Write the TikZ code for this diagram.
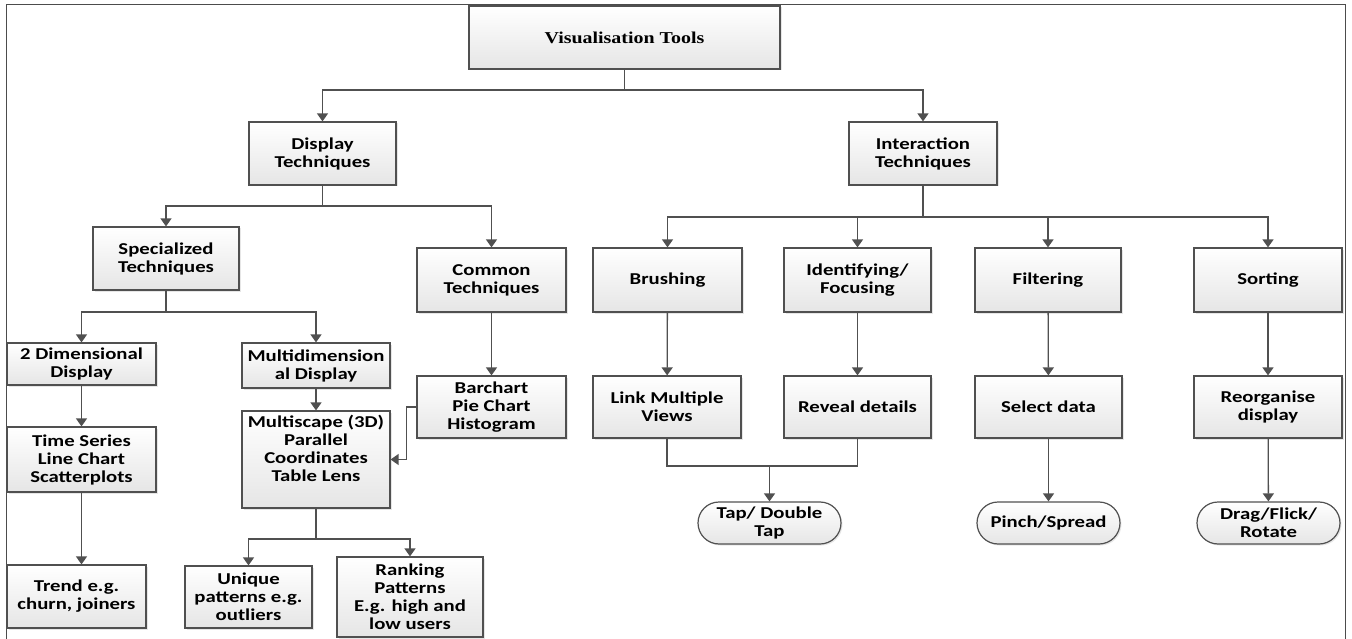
\documentclass[tikz,border=0pt]{standalone}
\usepackage{fontspec}
\setmainfont{Carlito}[FakeStretch=1.25]
\newfontfamily\titlefont{Liberation Serif}[FakeStretch=1.2]
\usetikzlibrary{arrows.meta,shapes.misc,shadows}
\definecolor{linegray}{HTML}{505050}
\tikzset{
  box/.style={draw=linegray, line width=1.2pt, top color=white, bottom color=gray!20,
    drop shadow={opacity=0.2,shadow xshift=1.5pt,shadow yshift=-1.5pt},
    align=center, inner sep=2pt, text=black,
    font=\fontsize{16.6}{18}\selectfont\bfseries},
  pill/.style={box, rounded rectangle},
  wire/.style={draw=linegray, line width=1.3pt},
  wirearrow/.style={wire, -{Triangle[width=11pt,length=8pt]}}
}
\begin{document}
\begin{tikzpicture}[x=1pt,y=-1pt]
\useasboundingbox (0,0) rectangle (1352,639);
\draw[line width=1pt, black!70] (6,639) -- (6,5) -- (1345,5) -- (1345,639);

% top levels
\node[box, minimum width=311pt, minimum height=63pt, font=\fontsize{16.6}{18}\selectfont\titlefont\bfseries] (vis) at (624.5,37.5) {Visualisation Tools};
\node[box, minimum width=147pt, minimum height=63pt] (disp) at (322.5,153.5) {Display\\Techniques};
\node[box, minimum width=148pt, minimum height=63pt] (inter) at (923,153.5) {Interaction\\Techniques};

\node[box, minimum width=146pt, minimum height=63pt] (spec) at (166,258.5) {Specialized\\Techniques};
\node[box, minimum width=149pt, minimum height=64pt] (common) at (491.5,280) {Common\\Techniques};
\node[box, minimum width=149pt, minimum height=64pt] (brush) at (667.5,280) {Brushing};
\node[box, minimum width=147pt, minimum height=64pt] (ident) at (857.5,280) {Identifying/\\Focusing};
\node[box, minimum width=146pt, minimum height=64pt] (filt) at (1048,280) {Filtering};
\node[box, minimum width=148pt, minimum height=64pt] (sort) at (1268,280) {Sorting};

% display branch
\node[box, minimum width=149pt, minimum height=42pt] (twod) at (81.5,364) {2 Dimensional\\Display};
\node[box, minimum width=148pt, minimum height=45pt] (multi) at (316,365.5) {Multidimension\\al Display};
\node[box, minimum width=149pt, minimum height=65pt] (series) at (81.5,459.5) {Time Series\\Line Chart\\Scatterplots};
\node[box, minimum width=148pt, minimum height=97pt, text depth=22pt] (mscape) at (316,459.5) {Multiscape (3D)\\Parallel\\Coordinates\\Table Lens};
\node[box, minimum width=139pt, minimum height=63pt] (trend) at (76.5,596.5) {Trend e.g.\\churn, joiners};
\node[box, minimum width=127pt, minimum height=62pt] (unique) at (248.5,597) {Unique\\patterns e.g.\\outliers};
\node[box, minimum width=146pt, minimum height=80pt] (rank) at (410,597) {Ranking\\Patterns\\E.g. high and\\low users};
\node[box, minimum width=149pt, minimum height=62pt] (bar) at (491.5,407) {Barchart\\Pie Chart\\Histogram};

% interaction branch
\node[box, minimum width=148pt, minimum height=62pt] (views) at (667,407) {Link Multiple\\Views};
\node[box, minimum width=147pt, minimum height=62pt] (reveal) at (857.5,407) {Reveal details};
\node[box, minimum width=147pt, minimum height=62pt] (select) at (1048.5,407) {Select data};
\node[box, minimum width=148pt, minimum height=62pt] (reorg) at (1268,407) {Reorganise\\display};
\node[pill, minimum width=147pt, minimum height=42pt] (tap) at (769.5,523) {Tap/ Double\\Tap};
\node[pill, minimum width=147pt, minimum height=42pt] (pinch) at (1048.5,523) {Pinch/Spread};
\node[pill, minimum width=147pt, minimum height=42pt] (drag) at (1268.5,523) {Drag/Flick/\\Rotate};

% connectors
\coordinate (vj) at (624.5,90);
\draw[wire] (vis.south) -- (vj);
\draw[wirearrow] (vj) -| (disp.north);
\draw[wirearrow] (vj) -| (inter.north);

\coordinate (dj) at (322.5,206);
\draw[wire] (disp.south) -- (dj);
\draw[wirearrow] (dj) -| (spec.north);
\draw[wirearrow] (dj) -| (common.north);

\coordinate (ij) at (923,217);
\draw[wire] (inter.south) -- (ij);
\foreach \n in {brush,ident,filt,sort}
  \draw[wirearrow] (ij) -| (\n.north);

\coordinate (sj) at (166,312);
\draw[wire] (spec.south) -- (sj);
\draw[wirearrow] (sj) -| (twod.north);
\draw[wirearrow] (sj) -| (multi.north);

\draw[wirearrow] (twod) -- (series);
\draw[wirearrow] (series.south) -- (series.south |- trend.north);
\draw[wirearrow] (multi) -- (mscape);

\coordinate (mj) at (316,539);
\draw[wire] (mscape.south) -- (mj);
\draw[wirearrow] (mj) -| (unique.north);
\draw[wirearrow] (mj) -| (rank.north);

\draw[wirearrow] (common) -- (bar);
\draw[wirearrow] (bar.west) -- ++(-10,0) |- (mscape.east);

\draw[wirearrow] (brush) -- (views);
\draw[wirearrow] (ident) -- (reveal);
\draw[wirearrow] (filt) -- (select);
\draw[wirearrow] (sort) -- (reorg);

\coordinate (tj) at (769.5,466);
\draw[wire] (views.south) |- (tj) -| (reveal.south);
\draw[wirearrow] (tj) -- (tap);
\draw[wirearrow] (select) -- (pinch);
\draw[wirearrow] (reorg) -- (drag);
\end{tikzpicture}
\end{document}
